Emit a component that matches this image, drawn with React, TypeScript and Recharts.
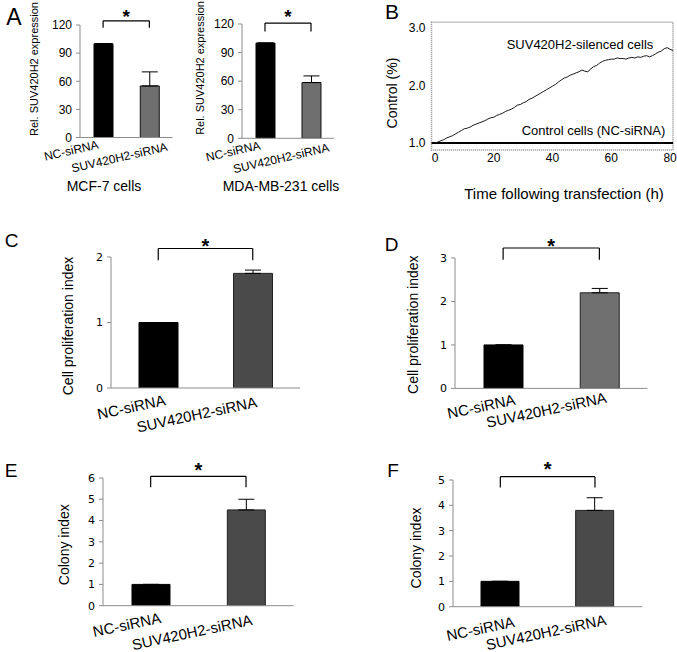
import React from "react";
import {
  BarChart, Bar, Cell, ErrorBar, XAxis, YAxis, ReferenceLine, ReferenceArea,
  LineChart, Line,
} from "recharts";

const FONT = "'Liberation Sans', Arial, Helvetica, sans-serif";
const NUM_FONT = "'DejaVu Sans', Verdana, sans-serif";

// groups shared by every bar panel
const GROUPS = ["NC-siRNA", "SUV420H2-siRNA"];

// A: relative SUV420H2 expression
const MCF7_EXPR = [100, 55];
const MCF7_EXPR_ERR = [0, 15];
const MDA_EXPR = [100, 58.5];
const MDA_EXPR_ERR = [0, 7];
const EXPR_TICKS = [0, 30, 60, 90, 120];

// C / D: cell proliferation index
const PROLIF_C = [1, 1.75];
const PROLIF_C_ERR = [0, 0.05];
const PROLIF_C_TICKS = [0, 1, 2];
const PROLIF_D = [1, 2.2];
const PROLIF_D_ERR = [0, 0.1];
const PROLIF_D_TICKS = [0, 1, 2, 3];

// E / F: colony index
const COLONY_E = [1, 4.5];
const COLONY_E_ERR = [0, 0.5];
const COLONY_E_TICKS = [0, 1, 2, 3, 4, 5, 6];
const COLONY_F = [1, 3.8];
const COLONY_F_ERR = [0, 0.5];
const COLONY_F_TICKS = [0, 1, 2, 3, 4, 5];

// B: real-time growth, hours after transfection
const TIME_H = [
  0, 1, 2, 3, 4, 5, 6, 7, 8, 9, 10, 11, 12, 13, 14, 15, 16, 17, 18, 19, 20,
  21, 22, 23, 24, 25, 26, 27, 28, 29, 30, 31, 32, 33, 34, 35, 36, 37, 38, 39, 40,
  41, 42, 43, 44, 45, 46, 47, 48, 49, 50, 51, 52, 53, 54, 55, 56, 57, 58, 59, 60,
  61, 62, 63, 64, 65, 66, 67, 68, 69, 70, 71, 72, 73, 74, 75, 76, 77, 78, 79, 80, 81,
];
const SILENCED = [
  1.00, 1.02, 1.04, 1.06, 1.09, 1.11, 1.13, 1.16, 1.19, 1.22, 1.25,
  1.26, 1.28, 1.31, 1.33, 1.35, 1.37, 1.39, 1.42, 1.44, 1.45,
  1.48, 1.50, 1.52, 1.55, 1.57, 1.59, 1.62, 1.66, 1.67, 1.70,
  1.72, 1.76, 1.78, 1.81, 1.84, 1.87, 1.90, 1.93, 1.96, 1.99,
  2.02, 2.06, 2.10, 2.13, 2.15, 2.18, 2.20, 2.22, 2.24, 2.27,
  2.25, 2.24, 2.29, 2.33, 2.35, 2.39, 2.42, 2.44, 2.45, 2.46,
  2.46, 2.48, 2.47, 2.47, 2.46, 2.48, 2.49, 2.48, 2.50, 2.49,
  2.51, 2.52, 2.50, 2.52, 2.55, 2.58, 2.60, 2.64, 2.66, 2.63, 2.61,
];
const CONTROL_LEVEL = 1.0;
const B_X_TICKS = [0, 20, 40, 60, 80];
const B_Y_TICKS = [1, 2, 3];
const B_X_DOMAIN: [number, number] = [-1.2, 81];
const B_Y_DOMAIN: [number, number] = [0.88, 3.1];

const rows = (vals: number[], errs: number[]) =>
  GROUPS.map((g, i) => ({ group: g, value: vals[i], err: [0, errs[i]] }));

type PanelProps = {
  values: number[];
  errors: number[];
  ticks: number[];
  x0: number; x1: number; y0: number; y1: number;
  barSize: number;
  colors: string[];
  strokes: string[];
  bracket: [number, number];
  title: string; titleX: number; titleY: number; titleSize: number;
  tickFont: string; tickFontSize: number;
  catSize: number; catAngle: number; catAnchor: "end" | "middle";
  catDx: number[]; catDy: number[];
  starSize: number; starOffset: number;
};

function BarPanel(p: PanelProps) {
  const ML = 40, YW = 40, MT = 30, MR = 10, XH = 40;
  const left = p.x0 - ML - YW;
  const top = p.y0 - MT;
  const width = p.x1 - p.x0 + ML + YW + MR;
  const height = p.y1 - p.y0 + MT + XH;
  const data = rows(p.values, p.errors);
  const [bTop, bBot] = p.bracket;
  const yMax = p.ticks[p.ticks.length - 1];
  const tx = p.titleX - left;
  const ty = p.titleY - top;

  return (
    <div style={{ position: "absolute", left, top }}>
      <BarChart
        width={width}
        height={height}
        data={data}
        margin={{ top: MT, right: MR, bottom: 0, left: ML }}
      >
        <XAxis
          dataKey="group"
          height={XH}
          interval={0}
          axisLine={{ stroke: "#8c8c8c" }}
          tickLine={false}
          tickSize={0}
          tickMargin={0}
          tick={(t: any) => (
            <text
              transform={`translate(${t.x + p.catDx[t.index]},${t.y + p.catDy[t.index]}) rotate(${p.catAngle})`}
              textAnchor={p.catAnchor}
              fontSize={p.catSize}
              fontFamily={FONT}
              fill="#000"
            >
              {t.payload.value}
            </text>
          )}
        />
        <YAxis
          width={YW}
          domain={[0, yMax]}
          ticks={p.ticks}
          allowDataOverflow
          axisLine={{ stroke: "#8c8c8c" }}
          tickLine={{ stroke: "#8c8c8c" }}
          tickSize={4}
          tickMargin={4}
          tick={{ fontSize: p.tickFontSize, fill: "#000", fontFamily: p.tickFont }}
          label={() => (
            <text
              x={tx}
              y={ty}
              transform={`rotate(-90 ${tx} ${ty})`}
              textAnchor="middle"
              dominantBaseline="central"
              fontSize={p.titleSize}
              fontFamily={FONT}
              fill="#000"
            >
              {p.title}
            </text>
          )}
        />
        <Bar dataKey="value" barSize={p.barSize} isAnimationActive={false}>
          {data.map((d, i) => (
            <Cell key={d.group} fill={p.colors[i]} stroke={p.strokes[i]} strokeWidth={1} />
          ))}
          <ErrorBar dataKey="err" width={8} stroke="#000" strokeWidth={1} direction="y" isAnimationActive={false} />
        </Bar>
        <ReferenceLine
          segment={[{ x: GROUPS[0], y: bTop }, { x: GROUPS[1], y: bTop }]}
          stroke="#000"
          strokeWidth={1.2}
          ifOverflow="visible"
          label={{
            value: "*", position: "top", offset: p.starOffset,
            fontSize: p.starSize, fontWeight: "bold", fill: "#000", fontFamily: FONT,
          }}
        />
        <ReferenceLine
          segment={[{ x: GROUPS[0], y: bTop }, { x: GROUPS[0], y: bBot }]}
          stroke="#000"
          strokeWidth={1.2}
          ifOverflow="visible"
        />
        <ReferenceLine
          segment={[{ x: GROUPS[1], y: bTop }, { x: GROUPS[1], y: bBot }]}
          stroke="#000"
          strokeWidth={1.2}
          ifOverflow="visible"
        />
      </BarChart>
    </div>
  );
}

function GrowthPanel() {
  const data = TIME_H.map((t, i) => ({ t, v: SILENCED[i] }));
  const left = 340, top = 0;
  return (
    <div style={{ position: "absolute", left, top }}>
      <LineChart
        width={337}
        height={210}
        data={data}
        margin={{ top: 22.3, right: 4, bottom: 0, left: 41.5 }}
      >
        <XAxis
          type="number"
          dataKey="t"
          domain={B_X_DOMAIN}
          ticks={B_X_TICKS}
          allowDataOverflow
          axisLine={false}
          tickLine={false}
          tickSize={0}
          tickMargin={3}
          height={60}
          tick={{ fontSize: 12, fill: "#000", fontFamily: FONT }}
          label={() => (
            <text x={564 - left} y={193 - top} textAnchor="middle" dominantBaseline="central"
              fontSize={15} fontFamily={FONT} fill="#000">
              Time following transfection (h)
            </text>
          )}
        />
        <YAxis
          type="number"
          domain={B_Y_DOMAIN}
          ticks={B_Y_TICKS}
          tickFormatter={(v: number) => v.toFixed(1)}
          allowDataOverflow
          axisLine={false}
          tickLine={false}
          tickSize={0}
          tickMargin={6}
          width={50}
          tick={{ fontSize: 12, fill: "#000", fontFamily: FONT }}
          label={() => (
            <text x={392 - left} y={93 - top} transform={`rotate(-90 ${392 - left} ${93 - top})`}
              textAnchor="middle" dominantBaseline="central" fontSize={14} fontFamily={FONT} fill="#000">
              Control (%)
            </text>
          )}
        />
        <ReferenceArea
          x1={B_X_DOMAIN[0]}
          x2={B_X_DOMAIN[1]}
          y1={B_Y_DOMAIN[0]}
          y2={B_Y_DOMAIN[1]}
          fill="none"
          fillOpacity={0}
          stroke="#8a8a8a"
          strokeWidth={1.5}
          strokeDasharray="1 1"
          ifOverflow="visible"
        />
        <ReferenceLine y={CONTROL_LEVEL} stroke="#000" strokeWidth={2} />
        <Line dataKey="v" stroke="#1a1a1a" strokeWidth={1} dot={false} isAnimationActive={false} />
      </LineChart>
    </div>
  );
}

const Txt = ({ x, y, size, children }: { x: number; y: number; size: number; children: React.ReactNode }) => (
  <div
    style={{
      position: "absolute",
      left: x,
      top: y,
      transform: "translate(-50%, -50%)",
      fontSize: size,
      lineHeight: 1,
      fontFamily: FONT,
      whiteSpace: "nowrap",
      color: "#000",
    }}
  >
    {children}
  </div>
);

const BLACK = "#000000";

export default function App() {
  return (
    <div style={{ position: "absolute", left: 0, top: 0, width: 677, height: 652, background: "#fff", overflow: "hidden" }}>
      {/* let rotated tick labels spill past each chart's own box */}
      <style>{".recharts-surface { overflow: visible; }"}</style>
      <BarPanel
        values={MCF7_EXPR} errors={MCF7_EXPR_ERR} ticks={EXPR_TICKS}
        x0={79.5} x1={172} y0={25} y1={137.5} barSize={19}
        colors={[BLACK, "#6f6f6f"]} strokes={[BLACK, "#111"]}
        bracket={[124.5, 117]}
        title="Rel. SUV420H2 expression" titleX={33} titleY={69} titleSize={11}
        tickFont={FONT} tickFontSize={12}
        catSize={12} catAngle={-13} catAnchor="middle" catDx={[-31, -29]} catDy={[17, 24]}
        starSize={19} starOffset={-2}
      />
      <BarPanel
        values={MDA_EXPR} errors={MDA_EXPR_ERR} ticks={EXPR_TICKS}
        x0={242} x1={334} y0={24} y1={138.3} barSize={19}
        colors={[BLACK, "#6f6f6f"]} strokes={[BLACK, "#111"]}
        bracket={[121, 112]}
        title="Rel. SUV420H2 expression" titleX={200} titleY={68} titleSize={11}
        tickFont={FONT} tickFontSize={12}
        catSize={12} catAngle={-13} catAnchor="middle" catDx={[-31, -29]} catDy={[17, 24]}
        starSize={19} starOffset={0.5}
      />
      <GrowthPanel />
      <BarPanel
        values={PROLIF_C} errors={PROLIF_C_ERR} ticks={PROLIF_C_TICKS}
        x0={111} x1={300} y0={257} y1={388} barSize={39}
        colors={[BLACK, "#4a4a4a"]} strokes={[BLACK, "#222"]}
        bracket={[2.13, 1.95]}
        title="Cell proliferation index" titleX={68} titleY={326} titleSize={14}
        tickFont={NUM_FONT} tickFontSize={11}
        catSize={15} catAngle={-12} catAnchor="end" catDx={[8, 5]} catDy={[17, 19]}
        starSize={20} starOffset={-5}
      />
      <BarPanel
        values={PROLIF_D} errors={PROLIF_D_ERR} ticks={PROLIF_D_TICKS}
        x0={454.5} x1={647} y0={258.3} y1={388.7} barSize={39}
        colors={[BLACK, "#707070"]} strokes={[BLACK, "#222"]}
        bracket={[3.23, 2.96]}
        title="Cell proliferation index" titleX={412.5} titleY={325} titleSize={14}
        tickFont={NUM_FONT} tickFontSize={11}
        catSize={15} catAngle={-12} catAnchor="end" catDx={[13, 8]} catDy={[16, 14]}
        starSize={20} starOffset={-5}
      />
      <BarPanel
        values={COLONY_E} errors={COLONY_E_ERR} ticks={COLONY_E_TICKS}
        x0={103.3} x1={294} y0={478.3} y1={606} barSize={38}
        colors={[BLACK, "#4a4a4a"]} strokes={[BLACK, "#222"]}
        bracket={[6.08, 5.56]}
        title="Colony index" titleX={64.5} titleY={545} titleSize={14}
        tickFont={NUM_FONT} tickFontSize={11}
        catSize={15} catAngle={-12} catAnchor="end" catDx={[11, 7]} catDy={[17, 19]}
        starSize={20} starOffset={-0.5}
      />
      <BarPanel
        values={COLONY_F} errors={COLONY_F_ERR} ticks={COLONY_F_TICKS}
        x0={452.7} x1={642} y0={480} y1={606.7} barSize={38}
        colors={[BLACK, "#4a4a4a"]} strokes={[BLACK, "#222"]}
        bracket={[5.13, 4.7]}
        title="Colony index" titleX={416} titleY={548} titleSize={14}
        tickFont={NUM_FONT} tickFontSize={11}
        catSize={15} catAngle={-12} catAnchor="end" catDx={[15, 12]} catDy={[20, 18]}
        starSize={20} starOffset={0.5}
      />

      <Txt x={14} y={16.5} size={23}>A</Txt>
      <Txt x={392} y={11} size={21}>B</Txt>
      <Txt x={11.5} y={240} size={19}>C</Txt>
      <Txt x={391.5} y={243.5} size={19}>D</Txt>
      <Txt x={11} y={470} size={19}>E</Txt>
      <Txt x={393} y={470} size={19}>F</Txt>

      <Txt x={104} y={186} size={14}>MCF-7 cells</Txt>
      <Txt x={281} y={186} size={14}>MDA-MB-231 cells</Txt>
      <Txt x={580} y={44} size={13}>SUV420H2-silenced cells</Txt>
      <Txt x={593.5} y={130} size={13}>Control cells (NC-siRNA)</Txt>
    </div>
  );
}
